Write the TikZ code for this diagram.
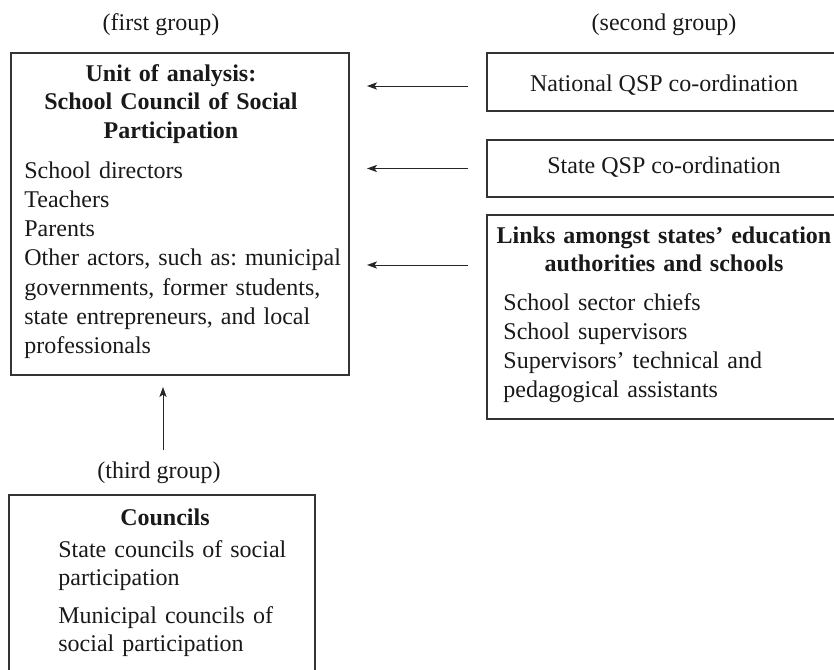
\documentclass[tikz,border=0pt]{standalone}
\usepackage{fontspec}
\setmainfont{Liberation Serif}
\usetikzlibrary{arrows.meta,calc}
\frenchspacing
\begin{document}
\begin{tikzpicture}[x=0.5pt,y=-0.5pt,
  box/.style={draw=black!80, line width=0.7pt, rectangle, inner sep=0pt, outer sep=0pt, anchor=north west},
  txt/.style={inner sep=0pt, text=black!90, font=\fontsize{12}{14.65}\selectfont},
  blk/.style={txt, text width=170pt, align=left, anchor=base west},
  ttl/.style={txt, font=\fontsize{12}{14.3}\selectfont\bfseries, text width=170pt, align=center, anchor=base},
  arr/.style={draw=black!85, line width=0.5pt, -{Stealth[length=5pt,width=3.6pt,inset=1.2pt]}}]
\useasboundingbox (0,0) rectangle (834,669);
\clip (0,0) rectangle (834,669);
% boxes
\node[box, minimum width=169pt, minimum height=161pt] (unit) at (11,53) {};
\node[box, minimum width=200pt, minimum height=29pt] (nat) at (487,53) {};
\node[box, minimum width=200pt, minimum height=28.5pt] (state) at (487,140) {};
\node[box, minimum width=200pt, minimum height=102pt] (links) at (487,215) {};
\node[box, minimum width=153pt, minimum height=120pt] (councils) at (9,495) {};
% group labels
\node[txt, anchor=base] (g1) at (161,30) {(first group)};
\node[txt, anchor=base] (g2) at (664,31) {(second group)};
\node[txt, anchor=base] (g3) at (159,478) {(third group)};
% main box text
\node[ttl] (unitT) at (171,81) {Unit of analysis:\\School Council of Social\\Participation};
\node[blk] (unitB) at (24,178) {School directors\\Teachers\\Parents\\Other actors, such as: municipal\\governments, former students,\\state entrepreneurs, and local\\professionals};
% second group texts
\node[txt, anchor=base] (natT) at (664,91) {National QSP co-ordination};
\node[txt, anchor=base] (stateT) at (664,173) {State QSP co-ordination};
\node[ttl, font=\fontsize{12}{14}\selectfont\bfseries] (linksT) at (664,243) {Links amongst states’ education\\authorities and schools};
\node[blk, font=\fontsize{12}{14.5}\selectfont] (linksB) at (503,310) {School sector chiefs\\School supervisors\\Supervisors’ technical and\\pedagogical assistants};
% third group texts
\node[ttl] (councilsT) at (165,525) {Councils};
\node[blk, font=\fontsize{12}{14.2}\selectfont] (councilsB) at (58,557) {State councils of social\\participation\\[4.8pt]Municipal councils of\\social participation};
% arrows
\draw[arr] ($(nat.north west)+(-19,33)$) -- ($(unit.north east)+(18,33)$);
\draw[arr] ($(state.west)+(-19,0)$) -- ($(unit.east |- state.west)+(18,0)$);
\draw[arr] ($(links.north west)+(-19,50)$) -- ($(unit.north east)+(18,212)$);
\draw[arr] ($(unit.south)+(-17,75)$) -- ($(unit.south)+(-17,12)$);
\end{tikzpicture}
\end{document}
